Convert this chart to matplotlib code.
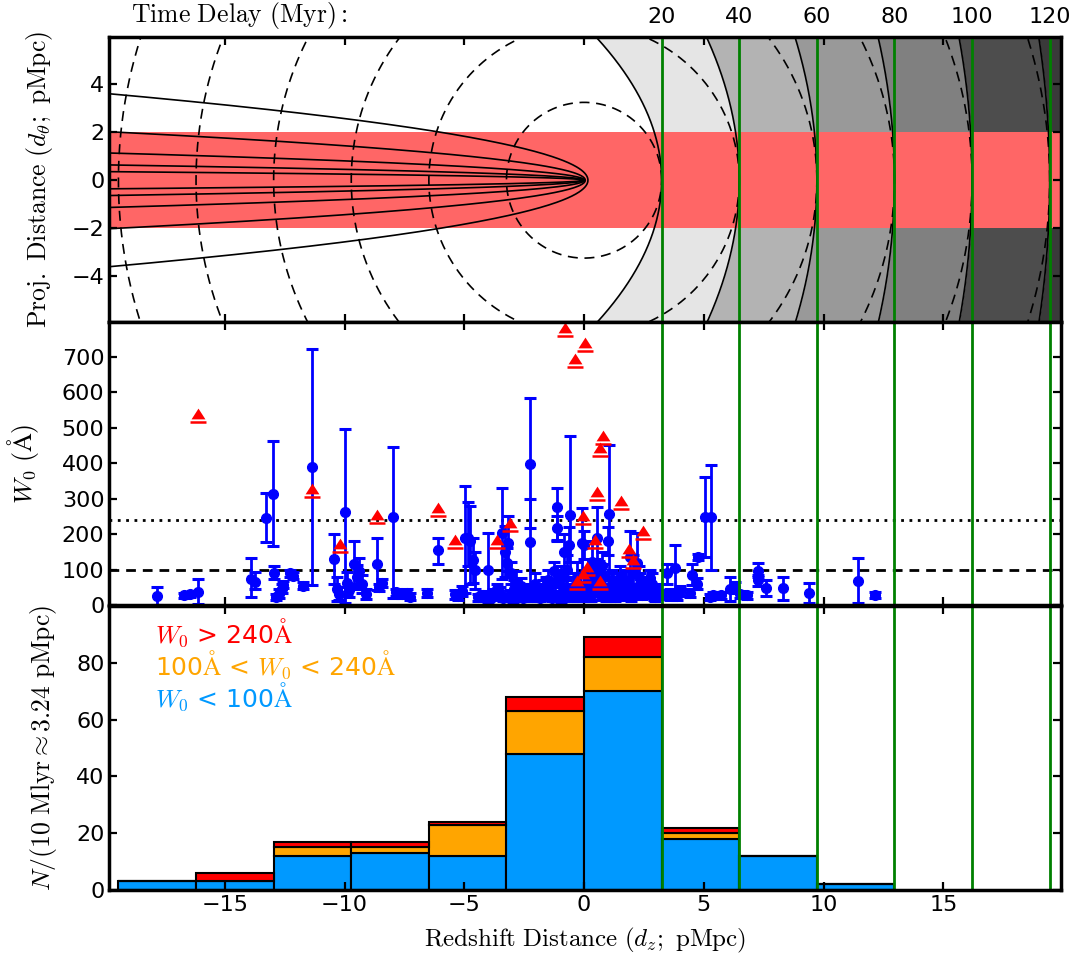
import numpy as np
import matplotlib.pyplot as plt
from matplotlib.path import Path

plt.rcParams['mathtext.fontset'] = 'cm'
plt.rcParams['font.family'] = 'DejaVu Sans'
plt.rcParams['xtick.direction'] = 'in'
plt.rcParams['ytick.direction'] = 'in'

# light echo geometry: 20 Myr of delay <-> 3.24 pMpc along the sightline
pmpc_per_myr = 3.24 / 20.
delays = [20, 40, 60, 80, 100, 120]
fan_delays = [1.0, 0.316, 0.1, 0.0316, 0.01]
shade = ['#e5e5e5', '#b3b3b3', '#999999', '#808080', '#4d4d4d', '#3a3a3a']
ring_delays = [10, 20, 30, 40, 50, 60]

# absorbers with measured W0 (value, top and bottom of the error bar)
blue_x = [-17.85, -16.70, -16.45, -16.10, -13.90, -13.75, -13.29, -12.97, -12.94, -12.85,
          -12.72, -12.62, -12.55, -12.28, -12.15, -11.72, -11.37, -10.42, -10.30, -10.22,
          -9.98, -9.90, -9.80, -9.60, -9.50, -9.38, -9.28, -9.12, -8.63, -8.55,
          -8.45, -7.96, -7.85, -7.62, -7.40, -7.25, -6.57, -6.11, -5.40, -5.25,
          -5.10, -4.97, -4.85, -4.75, -4.65, -4.55, -4.42, -4.22, -4.00, -3.82,
          -3.62, -3.44, -3.30, -3.20, -3.16, -3.05, -2.92, -2.80, -2.62, -2.45,
          -2.25, -2.25, -2.10, -1.92, -1.72, -1.52, -1.40, -1.25, -1.14, -1.15,
          -1.00, -0.90, -0.85, -0.70, -0.58, -0.62, -0.45, -0.30, -0.20, -0.10,
          0.00, 0.10, 0.20, 0.35, 0.45, 0.53, 0.60, 0.75, 0.85, 1.00,
          1.06, 1.20, 1.35, 1.50, 1.70, 1.92, 2.05, 2.20, 2.35, 2.50,
          2.62, 2.75, 2.90, 3.05, 3.45, 3.60, 3.80, 4.00, 4.43, 4.50,
          4.70, 4.77, 5.05, 5.29, 5.26, 5.40, 5.70, 6.10, 6.30, 6.50,
          6.79, 7.28, 7.28, 7.60, 8.30, 9.39, 11.45, 12.15,
          -3.95, -3.70, -3.50, -3.38, -3.10, -2.98, -2.70, -2.55, -2.35, -2.18,
          -2.00, -1.82, -1.62, -1.48, -1.32, -1.08, -0.95, -0.78, -0.52, -0.38,
          -0.05, 0.05, 0.28, 0.40, 0.68, 0.92, 1.10, 1.28, 1.42, 1.60,
          1.80, 1.98, 2.15, 2.42, 2.70, 2.95, 3.25, 3.90,
          -1.60, -1.20, -0.75, -0.25, 0.15, 0.50, 0.80, 1.15, 1.55, 1.85,
          2.30, 2.58, -2.85, -2.05, -0.98, 0.62, 1.72, 2.85]
blue_w = [25, 28, 30, 36, 72, 66, 246, 313, 91, 22,
          32, 46, 57, 89, 82, 54, 388, 130, 45, 32,
          263, 62, 42, 116, 78, 95, 60, 32, 117, 50,
          62, 249, 36, 30, 33, 24, 33, 155, 30, 25,
          40, 188, 190, 180, 128, 100, 22, 28, 100, 30,
          45, 202, 150, 118, 174, 90, 45, 30, 55, 40,
          399, 178, 35, 30, 45, 70, 30, 95, 277, 216,
          60, 40, 150, 100, 254, 170, 50, 80, 30, 174,
          170, 60, 40, 120, 90, 188, 70, 110, 50, 180,
          258, 60, 40, 80, 30, 136, 90, 118, 60, 40,
          55, 75, 30, 45, 89, 30, 103, 40, 33, 86,
          60, 136, 249, 249, 23, 28, 28, 44, 50, 30,
          28, 97, 70, 47, 47, 35, 69, 28,
          20, 25, 35, 20, 30, 18, 25, 20, 30, 22,
          45, 20, 25, 40, 20, 28, 18, 35, 22, 30,
          25, 40, 25, 45, 30, 25, 35, 22, 55, 30,
          45, 25, 35, 28, 35, 22, 30, 25,
          55, 65, 45, 60, 75, 55, 85, 70, 60, 65,
          80, 45, 65, 60, 80, 90, 70, 60]
blue_hi = [52, 35, 37, 73, 132, 92, 317, 462, 110, 32,
           44, 60, 67, 99, 93, 64, 721, 200, 78, 52,
           495, 92, 60, 180, 112, 132, 86, 46, 188, 60,
           74, 445, 46, 42, 45, 34, 44, 188, 42, 35,
           55, 335, 290, 280, 190, 150, 32, 40, 204, 45,
           60, 329, 222, 160, 251, 120, 70, 45, 75, 55,
           583, 298, 50, 45, 70, 100, 50, 120, 329, 250,
           90, 60, 200, 140, 476, 220, 80, 120, 50, 273,
           210, 100, 70, 180, 130, 277, 110, 150, 80, 220,
           451, 90, 60, 110, 50, 209, 140, 204, 90, 60,
           80, 100, 45, 60, 117, 45, 169, 55, 45, 117,
           75, 145, 362, 395, 32, 38, 38, 80, 65, 40,
           38, 119, 85, 70, 80, 63, 132, 36,
           30, 35, 50, 30, 42, 28, 35, 30, 42, 32,
           60, 30, 35, 55, 30, 40, 28, 50, 32, 45,
           40, 55, 38, 65, 45, 38, 50, 32, 75, 45,
           60, 38, 50, 40, 50, 32, 42, 35,
           80, 95, 70, 90, 105, 80, 115, 100, 90, 95,
           110, 70, 95, 90, 110, 125, 100, 90]
blue_lo = [0, 21, 23, 3, 22, 44, 177, 166, 72, 13,
           21, 33, 47, 80, 72, 44, 56, 58, 12, 15,
           5, 32, 24, 55, 44, 60, 34, 18, 42, 40,
           50, 20, 26, 20, 22, 14, 22, 117, 18, 15,
           25, 33, 110, 60, 62, 45, 10, 15, 5, 15,
           30, 72, 80, 80, 95, 60, 25, 15, 35, 25,
           216, 60, 20, 15, 25, 40, 15, 70, 183, 180,
           30, 20, 100, 60, 89, 120, 20, 40, 10, 80,
           130, 20, 10, 60, 50, 100, 30, 70, 20, 140,
           20, 30, 20, 50, 15, 60, 40, 50, 30, 20,
           30, 50, 15, 30, 60, 15, 40, 25, 22, 56,
           45, 127, 136, 99, 14, 18, 18, 10, 35, 20,
           18, 80, 55, 25, 14, 7, 7, 20,
           10, 15, 20, 10, 18, 8, 15, 10, 18, 12,
           30, 10, 15, 25, 10, 16, 8, 20, 12, 15,
           10, 25, 12, 25, 15, 12, 20, 12, 35, 15,
           30, 12, 20, 16, 20, 12, 18, 15,
           30, 35, 20, 30, 45, 30, 55, 40, 30, 35,
           50, 20, 35, 30, 50, 55, 40, 30]

# absorbers where W0 is only a lower limit
lim_x = [-16.10, -11.37, -10.20, -8.63, -6.11, -5.39, -3.62, -3.09, -0.79, 0.04,
         -0.38, -0.05, 0.46, 0.11, -0.05, -0.30, 0.67, 0.53, 0.81, 0.67,
         1.53, 1.89, 2.03, 2.48]
lim_w = [515, 305, 150, 230, 250, 160, 160, 210, 760, 715,
         670, 228, 160, 85, 65, 45, 45, 295, 455, 420,
         272, 135, 105, 187]

# histogram: counts per 3.24 pMpc bin
bin_left = [-19.44, -16.20, -12.96, -9.72, -6.48, -3.24, 0.00, 3.24, 6.48, 9.72]
bin_width = 3.24
n_weak = [3, 3, 12, 13, 12, 48, 70, 18, 12, 2]
n_mid = [0, 0, 3, 2, 11, 15, 12, 2, 0, 0]
n_strong = [0, 3, 2, 2, 1, 5, 7, 2, 0, 0]


def delay_curve(t, y):
    # surface of constant delay t: r + x = L with L = 2 * pmpc_per_myr * t
    L = 2 * pmpc_per_myr * t
    return (L**2 - y**2) / (2 * L)


fig = plt.figure(figsize=(10.76, 9.57), dpi=100)
left, width = 0.1016, 0.8842
ax0 = fig.add_axes([left, 0.6635, width, 0.2976])
ax1 = fig.add_axes([left, 0.3678, width, 0.2957])
ax2 = fig.add_axes([left, 0.0700, width, 0.2968])

xlim = (-19.82, 19.90)
green_x = [pmpc_per_myr * t for t in delays]
lab_fs = 18.5

# ---- top panel: light echo geometry
yy = np.linspace(-6.5, 6.5, 600)
for i, t in enumerate(delays):
    xl = delay_curve(t, yy)
    xr = delay_curve(delays[i + 1], yy) if i + 1 < len(delays) else np.full_like(yy, 30.)
    ax0.fill_betweenx(yy, xl, xr, color=shade[i], lw=0, zorder=0)
ax0.axhspan(-2, 2, color='#ff6666', lw=0, zorder=1)
for t in delays + fan_delays:
    ax0.plot(delay_curve(t, yy), yy, color='k', lw=1.2, zorder=2)
th = np.linspace(0, 2 * np.pi, 800)
for t in ring_delays:
    r = 2 * pmpc_per_myr * t
    ax0.plot(r * np.cos(th), r * np.sin(th), color='k', lw=1.2, dashes=(6, 4), zorder=2)
ax0.set_ylim(-5.9, 5.95)
ax0.set_yticks([-4, -2, 0, 2, 4])
ax0.set_ylabel(r'$\mathrm{Proj.\ Distance}\ (d_\theta;\ \mathrm{pMpc})$', fontsize=lab_fs)
ax0.yaxis.set_label_coords(-0.057, 0.5)
for x, t in zip(green_x, delays):
    ax0.text(x, 1.07, str(t), transform=ax0.get_xaxis_transform(), ha='center', va='center', fontsize=16)
ax0.text(-14.4, 1.075, r'$\mathrm{Time\ Delay\ (Myr):}$', transform=ax0.get_xaxis_transform(),
         ha='center', va='center', fontsize=lab_fs)

# ---- middle panel: W0 of the absorbers
bx = np.array(blue_x)
bw = np.array(blue_w)
yerr = [bw - np.array(blue_lo), np.array(blue_hi) - bw]
ax1.errorbar(bx, bw, yerr=yerr, fmt='o', color='b', mec='b', ms=7, elinewidth=2,
             capsize=4.5, capthick=2.2, zorder=3)
tri = [(-1.0, 0.45), (1.0, 0.45), (0.0, 2.0), (-1.0, 0.45)]
bar = [(-1.15, -0.18), (1.15, -0.18), (1.15, 0.18), (-1.15, 0.18), (-1.15, -0.18)]
codes = [Path.MOVETO, Path.LINETO, Path.LINETO, Path.CLOSEPOLY,
         Path.MOVETO, Path.LINETO, Path.LINETO, Path.LINETO, Path.CLOSEPOLY]
limit_marker = Path(tri + bar, codes)
ax1.plot(lim_x, lim_w, ls='none', marker=limit_marker, ms=20, color='r', mec='r', mew=0, zorder=4)
ax1.axhline(240, color='k', lw=2, dashes=(1, 2), zorder=1)
ax1.axhline(100, color='k', lw=2, dashes=(3.5, 2.5), zorder=1)
ax1.set_ylim(0, 798)
ax1.set_yticks(range(0, 800, 100))
ax1.set_ylabel(r'$W_0\ (\mathrm{\AA})$', fontsize=lab_fs)
ax1.yaxis.set_label_coords(-0.072, 0.5)

# ---- bottom panel: stacked histogram
b1 = np.array(n_weak)
b2 = b1 + np.array(n_mid)
ax2.bar(bin_left, n_weak, width=bin_width, align='edge', color='#0099ff', edgecolor='k', lw=1.5, zorder=1)
ax2.bar(bin_left, n_mid, width=bin_width, bottom=b1, align='edge', color='#ffa500', edgecolor='k', lw=1.5, zorder=1)
ax2.bar(bin_left, n_strong, width=bin_width, bottom=b2, align='edge', color='#ff0000', edgecolor='k', lw=1.5, zorder=1)
ax2.set_ylim(0, 100)
ax2.set_yticks(range(0, 100, 20))
ax2.set_ylabel(r'$N/(10\ \mathrm{Mlyr}\approx3.24\ \mathrm{pMpc})$', fontsize=lab_fs)
ax2.yaxis.set_label_coords(-0.053, 0.5)
ax2.set_xlabel(r'$\mathrm{Redshift\ Distance}\ (d_z;\ \mathrm{pMpc})$', fontsize=18)
ax2.xaxis.set_label_coords(0.5, -0.125)
leg_fs = 18
ax2.text(-17.9, 0.905, r'$W_0$ > 240$\mathrm{\AA}$', color='r', transform=ax2.get_xaxis_transform(), va='center', fontsize=leg_fs)
ax2.text(-17.9, 0.793, r'100$\mathrm{\AA}$ < $W_0$ < 240$\mathrm{\AA}$', color='#ffa500', transform=ax2.get_xaxis_transform(), va='center', fontsize=leg_fs)
ax2.text(-17.9, 0.681, r'$W_0$ < 100$\mathrm{\AA}$', color='#0099ff', transform=ax2.get_xaxis_transform(), va='center', fontsize=leg_fs)

for ax in [ax0, ax1, ax2]:
    for x in green_x:
        ax.axvline(x, color='green', lw=2, zorder=5)
    ax.set_xlim(xlim)
    ax.set_xticks(range(-15, 20, 5))
    ax.tick_params(top=True, right=True, length=6, width=1.6, labelsize=16)
    for s in ax.spines.values():
        s.set_linewidth(2.5)
        s.set_zorder(6)
ax0.tick_params(labelbottom=False)
ax1.tick_params(labelbottom=False)

plt.savefig('out.png', dpi=100)
